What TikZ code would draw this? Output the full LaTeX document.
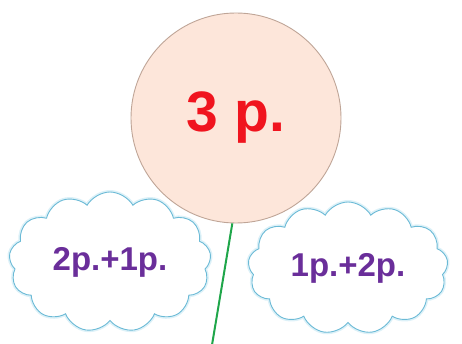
\documentclass[tikz,border=0pt]{standalone}
\usepackage{fontspec}
\setmainfont{Liberation Sans}
\usepackage{tikz}
\usetikzlibrary{positioning, shapes.symbols}

\definecolor{peach}{HTML}{FDE6DA}
\definecolor{peachline}{HTML}{BFA597}
\definecolor{cloudline}{HTML}{6BBAD6}
\definecolor{cloudglow}{HTML}{DDF1F8}
\definecolor{textred}{HTML}{F0141E}
\definecolor{textpurple}{HTML}{6A2E9A}
\definecolor{stringgreen}{HTML}{1FA64A}

\begin{document}
\begin{tikzpicture}[
    x=1pt, y=-1pt,
    balloon/.style={
        circle,
        draw=peachline,
        fill=peach,
        line width=0.9pt,
        minimum size=210pt,
        font=\bfseries\fontsize{57}{60}\selectfont,
        text=textred
    },
    puff/.style={
        cloud,
        cloud puffs=13,
        cloud puff arc=120,
        cloud ignores aspect,
        draw=cloudline,
        fill=white,
        line width=0.9pt,
        preaction={draw=cloudglow, line width=4pt},
        inner sep=0pt,
        font=\bfseries\fontsize{33}{36}\selectfont,
        text=textpurple
    },
    string/.style={draw=stringgreen, line width=2pt}
]

\useasboundingbox (0,0) rectangle (462,344);

\node[puff, minimum width=202pt, minimum height=140pt] (left) at (110,262) {2p.+1p.};
\node[puff, minimum width=200pt, minimum height=132pt] (right) at (348,268) {1p.+2p.};

\node[balloon] (ball) at (236,118) {3 p.};

\coordinate (end) at (212,345);
\draw[string] (ball.-92) -- (end);

\end{tikzpicture}
\end{document}
